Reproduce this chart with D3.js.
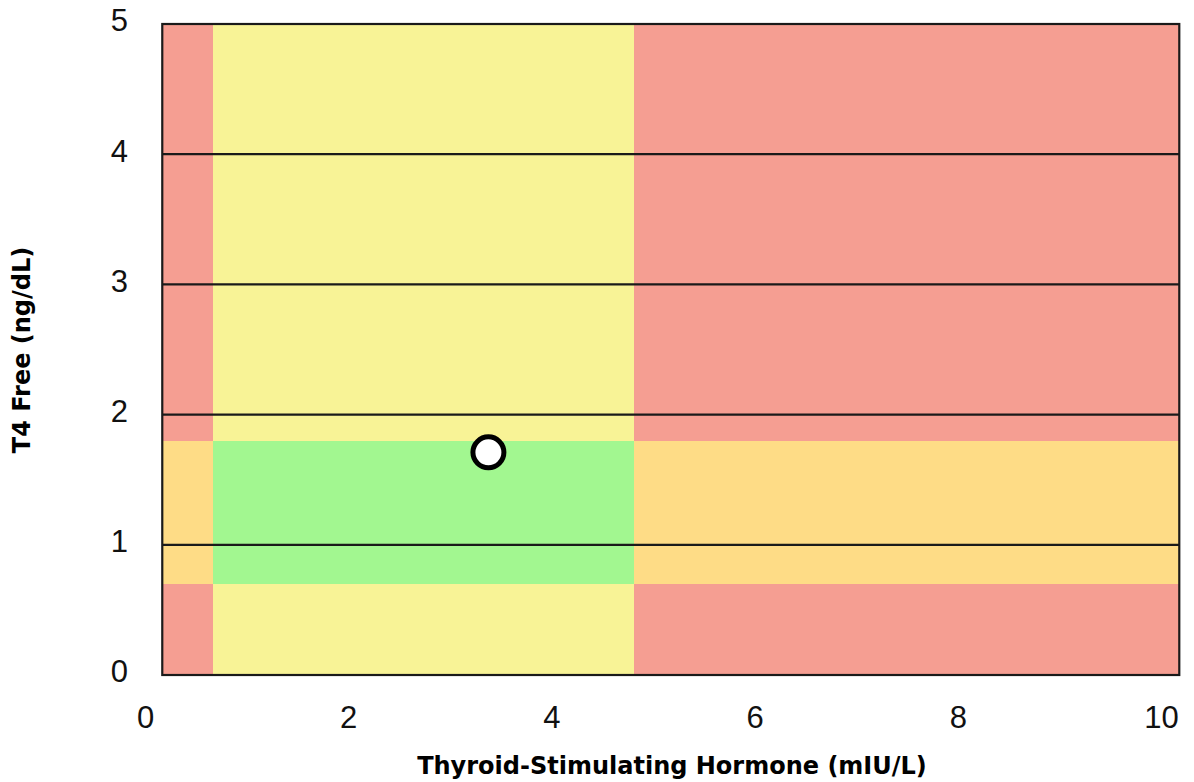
<!DOCTYPE html>
<html>
<head>
<meta charset="utf-8">
<script src="https://cdn.jsdelivr.net/npm/d3@7"></script>
<style>
  html, body { margin: 0; padding: 0; background: #ffffff; }
  svg { display: block; }
</style>
</head>
<body>
<svg id="chart" width="1194" height="782"></svg>
<script>
// ---- data ----
const xTicks = [0, 2, 4, 6, 8, 10];
const yTicks = [0, 1, 2, 3, 4, 5];
const gridValues = [1, 2, 3, 4];
const tshExtent = [0.17, 10.18];          // plotted TSH range of the background
const tshBands = [0.17, 0.67, 4.81, 10.18]; // TSH zone boundaries
const ft4Bands = [0, 0.7, 1.8, 5];         // Free T4 zone boundaries
// zone colour keys, rows = FT4 band (low, normal, high), cols = TSH band (low, normal, high)
const zoneGrid = [
  ["red", "yellow", "red"],
  ["orange", "green", "orange"],
  ["red", "yellow", "red"]
];
const patientTSH = [3.38];
const patientFT4 = [1.71];
const xTitle = "Thyroid-Stimulating Hormone (mIU/L)";
const yTitle = "T4 Free (ng/dL)";

// ---- styles ----
const zoneColors = { red: "#f59e92", yellow: "#f8f396", green: "#a2f790", orange: "#fedc86" };

const svg = d3.select("#chart");
const x = d3.scaleLinear().domain([0, 10]).range([145, 1161]);
const y = d3.scaleLinear().domain([0, 5]).range([675, 24]);

// zones
const cells = [];
zoneGrid.forEach((row, ri) => row.forEach((key, ci) => {
  cells.push({ x0: tshBands[ci], x1: tshBands[ci + 1], y0: ft4Bands[ri], y1: ft4Bands[ri + 1], key });
}));
svg.append("g").selectAll("rect").data(cells).join("rect")
  .attr("x", d => x(d.x0))
  .attr("width", d => x(d.x1) - x(d.x0))
  .attr("y", d => y(d.y1))
  .attr("height", d => y(d.y0) - y(d.y1))
  .attr("fill", d => zoneColors[d.key])
  .attr("shape-rendering", "crispEdges");

// gridlines
svg.append("g").selectAll("line").data(gridValues).join("line")
  .attr("x1", x(tshExtent[0])).attr("x2", x(tshExtent[1]))
  .attr("y1", d => y(d)).attr("y2", d => y(d))
  .attr("stroke", "#1a1a1a").attr("stroke-width", 2.2);

// frame
svg.append("rect")
  .attr("x", x(tshExtent[0])).attr("y", y(5))
  .attr("width", x(tshExtent[1]) - x(tshExtent[0]))
  .attr("height", y(0) - y(5))
  .attr("fill", "none").attr("stroke", "#1a1a1a").attr("stroke-width", 2.2);

// x axis labels
const xAxis = d3.axisBottom(x).tickValues(xTicks).tickSize(0).tickPadding(0).tickFormat(d3.format("d"));
const gx = svg.append("g").attr("transform", "translate(0,717)").call(xAxis);
gx.select(".domain").remove();
gx.selectAll("text").attr("font-family", "Liberation Sans, Arial, sans-serif")
  .attr("font-size", 31).attr("fill", "#111").attr("dy", "0.35em");

// y axis labels
const yAxis = d3.axisLeft(y).tickValues(yTicks).tickSize(0).tickPadding(0).tickFormat(d3.format("d"));
const gy = svg.append("g").attr("transform", "translate(128,0)").call(yAxis);
gy.select(".domain").remove();
gy.selectAll("text").attr("font-family", "Liberation Sans, Arial, sans-serif")
  .attr("font-size", 31).attr("fill", "#111").attr("dy", "0.22em");

// patient point
svg.append("g").selectAll("circle").data(patientTSH).join("circle")
  .attr("cx", d => x(d)).attr("cy", (d, i) => y(patientFT4[i]))
  .attr("r", 15.5).attr("fill", "#ffffff").attr("stroke", "#000").attr("stroke-width", 5);

// axis titles
svg.append("text").attr("x", 672).attr("y", 767).attr("text-anchor", "middle")
  .attr("dominant-baseline", "middle")
  .attr("font-family", "DejaVu Sans, Verdana, sans-serif").attr("font-weight", "bold")
  .attr("font-size", 24).attr("fill", "#000").text(xTitle);
svg.append("text").attr("transform", "translate(23,350) rotate(-90)").attr("text-anchor", "middle")
  .attr("dominant-baseline", "middle")
  .attr("font-family", "DejaVu Sans, Verdana, sans-serif").attr("font-weight", "bold")
  .attr("font-size", 24).attr("fill", "#000").text(yTitle);
</script>
</body>
</html>
